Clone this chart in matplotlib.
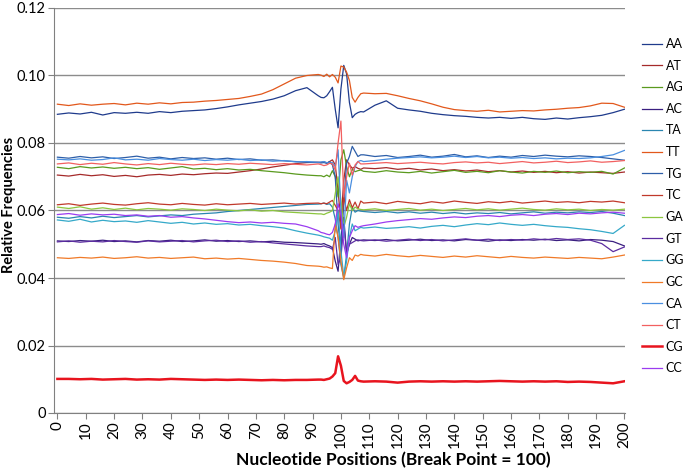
import numpy as np
import matplotlib
matplotlib.use("Agg")
import matplotlib.pyplot as plt

# nucleotide positions (coarse away from the break point, every position near it)
positions = list(range(0, 93, 4)) + list(range(93, 108)) + list(range(108, 201, 4))

# relative frequencies, in units of 1e-4 (left part | break 93..107 | right part)
AA = [885, 889, 886, 891, 883, 890, 888, 891, 888, 893, 890, 894, 896, 898, 902, 907, 913, 918, 923, 930, 940, 955, 964, 940,
      935, 934, 940, 952, 965, 900, 845, 960, 1030, 1005, 920, 875, 885, 890, 893,
      892, 912, 925, 903, 898, 894, 888, 884, 881, 879, 876, 874, 876, 873, 876, 872, 870, 874, 871, 875, 878, 882, 890, 900]
AT = [705, 702, 707, 703, 706, 701, 704, 700, 705, 707, 704, 708, 706, 709, 711, 710, 714, 718, 723, 729, 734, 739, 742, 743,
      742, 745, 740, 745, 750, 735, 660, 560, 690, 750, 735, 725, 730, 725, 722,
      726, 724, 727, 722, 725, 720, 723, 718, 721, 717, 720, 715, 718, 714, 717, 713, 716, 712, 715, 711, 714, 712, 710, 714]
AG = [728, 724, 730, 726, 729, 725, 728, 724, 727, 722, 726, 730, 723, 725, 721, 724, 720, 722, 718, 715, 712, 708, 705, 703,
      703, 700, 705, 700, 718, 700, 640, 750, 780, 730, 700, 722, 715, 718, 720,
      716, 713, 718, 714, 712, 716, 711, 715, 719, 713, 716, 712, 718, 714, 711, 716, 713, 717, 712, 715, 713, 716, 708, 726]
AC = [510, 508, 511, 509, 512, 508, 510, 507, 511, 509, 512, 508, 510, 513, 509, 511, 508, 510, 507, 509, 506, 505, 503, 501,
      500, 502, 498, 495, 490, 450, 420, 520, 580, 470, 500, 520, 515, 510, 512,
      513, 511, 514, 510, 512, 515, 511, 513, 510, 514, 512, 509, 513, 511, 514, 512, 515, 511, 513, 510, 514, 512, 508, 495]
TA = [580, 577, 582, 578, 583, 579, 582, 585, 581, 584, 587, 585, 589, 591, 593, 597, 600, 603, 606, 609, 612, 615, 618, 619,
      620, 622, 618, 620, 610, 575, 520, 440, 400, 470, 560, 610, 595, 600, 598,
      597, 594, 597, 593, 596, 592, 595, 591, 594, 590, 593, 591, 594, 590, 593, 596, 592, 595, 593, 596, 594, 597, 592, 585]
TT = [915, 911, 916, 912, 915, 917, 913, 918, 915, 919, 916, 920, 921, 924, 926, 929, 932, 938, 945, 958, 975, 992, 1000, 1003,
      1001, 997, 1004, 996, 1003, 995, 978, 1028, 1025, 1010, 985, 935, 921, 935, 946,
      948, 946, 947, 940, 932, 925, 916, 906, 899, 896, 894, 897, 892, 894, 896, 895, 898, 900, 903, 905, 910, 918, 917, 906]
TG = [758, 755, 760, 756, 759, 754, 757, 761, 755, 758, 753, 757, 754, 756, 752, 755, 751, 753, 749, 750, 747, 745, 743, 742,
      741, 742, 740, 745, 735, 700, 560, 480, 620, 740, 760, 790, 775, 760, 765,
      765, 760, 763, 757, 760, 764, 758, 761, 766, 759, 762, 757, 761, 758, 763, 760, 764, 761, 759, 762, 760, 757, 753, 749]
TC = [617, 620, 615, 619, 622, 618, 616, 620, 623, 619, 617, 621, 618, 616, 620, 617, 619, 621, 618, 620, 622, 619, 621, 622,
      620, 622, 620, 625, 630, 615, 600, 545, 640, 600, 632, 608, 625, 605, 628,
      622, 625, 620, 627, 623, 620, 626, 622, 628, 624, 621, 626, 623, 627, 622, 625, 628, 624, 626, 623, 627, 625, 628, 623]
GA = [610, 606, 611, 604, 608, 603, 607, 602, 606, 604, 601, 605, 603, 600, 604, 601, 599, 602, 598, 600, 596, 594, 592, 590,
      590, 588, 592, 595, 600, 650, 700, 630, 550, 580, 620, 600, 610, 605, 603,
      602, 605, 600, 603, 606, 601, 604, 600, 603, 606, 602, 605, 601, 604, 607, 603, 601, 605, 602, 604, 600, 603, 601, 604]
GT = [507, 510, 506, 509, 507, 511, 508, 506, 510, 507, 509, 511, 507, 510, 512, 508, 510, 506, 508, 504, 501, 498, 495, 493,
      493, 495, 492, 490, 485, 520, 440, 460, 560, 480, 500, 505, 510, 513, 511,
      510, 513, 509, 512, 515, 511, 514, 510, 513, 516, 512, 515, 511, 514, 512, 516, 513, 517, 514, 516, 512, 502, 478, 492]
GG = [572, 568, 574, 566, 571, 567, 569, 565, 570, 566, 562, 565, 560, 563, 559, 561, 557, 559, 555, 552, 548, 540, 533, 527,
      525, 522, 520, 518, 512, 540, 600, 480, 405, 450, 520, 560, 540, 545, 550,
      548, 551, 547, 549, 552, 548, 553, 556, 552, 557, 561, 558, 563, 559, 556, 559, 555, 552, 550, 546, 543, 538, 532, 556]
GC = [460, 458, 461, 459, 462, 458, 460, 463, 459, 461, 458, 460, 462, 457, 459, 456, 458, 455, 452, 450, 447, 443, 437, 435,
      434, 432, 433, 430, 428, 560, 520, 450, 395, 430, 460, 452, 468, 465, 470,
      468, 465, 470, 466, 463, 467, 464, 461, 465, 462, 466, 463, 460, 464, 461, 459, 462, 460, 458, 461, 459, 457, 462, 468]
CA = [752, 750, 753, 749, 751, 756, 750, 752, 749, 754, 751, 749, 752, 748, 751, 749, 752, 748, 750, 746, 748, 744, 745, 743,
      744, 745, 742, 740, 742, 730, 780, 600, 520, 690, 652, 700, 730, 745, 748,
      745, 748, 752, 755, 757, 759, 756, 758, 761, 757, 760, 756, 758, 755, 757, 754, 756, 753, 755, 754, 756, 760, 765, 778]
CT = [738, 741, 736, 740, 737, 742, 738, 735, 739, 736, 740, 737, 735, 738, 736, 739, 737, 740, 738, 736, 739, 737, 735, 738,
      736, 733, 735, 740, 738, 720, 800, 865, 640, 700, 740, 705, 735, 745, 738,
      738, 740, 742, 739, 741, 743, 740, 738, 742, 744, 741, 743, 739, 742, 745, 741, 743, 746, 742, 744, 747, 743, 745, 748]
CG = [101, 101, 100, 101, 99, 100, 101, 99, 100, 99, 101, 100, 99, 98, 99, 98, 99, 98, 97, 98, 97, 98, 98, 99,
      99, 98, 100, 102, 108, 118, 168, 140, 95, 88, 92, 98, 110, 96, 94,
      93, 94, 93, 90, 93, 94, 93, 94, 93, 94, 93, 94, 95, 94, 93, 94, 93, 94, 92, 93, 92, 90, 88, 94]
CC = [588, 591, 586, 590, 587, 589, 585, 587, 583, 585, 580, 582, 578, 575, 571, 567, 564, 566, 563, 565, 562, 560, 552, 540,
      535, 533, 530, 528, 535, 560, 620, 590, 500, 460, 520, 540, 555, 550, 553,
      555, 560, 566, 570, 573, 576, 574, 578, 581, 579, 583, 585, 582, 586, 588, 585, 589, 591, 588, 592, 590, 593, 595, 592]

labels = ['AA', 'AT', 'AG', 'AC', 'TA', 'TT', 'TG', 'TC', 'GA', 'GT', 'GG', 'GC', 'CA', 'CT', 'CG', 'CC']
series = [AA, AT, AG, AC, TA, TT, TG, TC, GA, GT, GG, GC, CA, CT, CG, CC]
colors = ['#1f3b8c', '#a52a2a', '#5a9a1e', '#3a1f80', '#2a86b0', '#e2581c', '#2d5ea8', '#c0392b',
          '#8cc63f', '#5b2ca0', '#35a9c9', '#f07a28', '#4a8fe0', '#f26060', '#e8141e', '#9b3cf0']

plt.rcParams['font.family'] = ['Lato', 'DejaVu Sans']

fig = plt.figure(figsize=(6.85, 4.70), dpi=100)
ax = fig.add_axes([54 / 685, 57 / 470, 571 / 685, 405 / 470])

for lab, vals, col in zip(labels, series, colors):
    lw = 1.8 if lab == 'CG' else 0.9
    ax.plot(positions, np.array(vals) / 10000.0, color=col, lw=lw, label=lab)

ax.set_xlim(-1.2, 200.2)
ax.set_ylim(0, 0.12)
ax.set_yticks([0, 0.02, 0.04, 0.06, 0.08, 0.10, 0.12])
ax.set_yticklabels(['0', '0.02', '0.04', '0.06', '0.08', '0.10', '0.12'], fontsize=10.5)
ax.set_xticks(range(0, 201, 10))
ax.set_xticklabels([str(v) for v in range(0, 201, 10)], rotation=90, fontsize=11)
ax.grid(axis='y', color='#8c8c8c', lw=1)
ax.set_axisbelow(True)
for s in ['top', 'right']:
    ax.spines[s].set_visible(False)
for s in ['left', 'bottom']:
    ax.spines[s].set_color('#808080')
ax.tick_params(axis='both', color='#808080', length=4, pad=2)

ax.set_xlabel('Nucleotide Positions (Break Point = 100)', fontsize=12.5, fontweight='bold')
ax.xaxis.set_label_coords((393 - 54) / 571, (413 - 452) / 405)
ax.set_ylabel('Relative Frequencies', fontsize=10.5, fontweight='bold')
ax.yaxis.set_label_coords((16 - 54) / 571, (413 - 205) / 405)

fig.legend(loc='upper left', bbox_to_anchor=(642 / 685, 1 - 38 / 470), frameon=False,
           fontsize=9, handlelength=1.6, handletextpad=0.3, labelspacing=0.77,
           borderpad=0, borderaxespad=0)

fig.savefig('out.png', dpi=100)
